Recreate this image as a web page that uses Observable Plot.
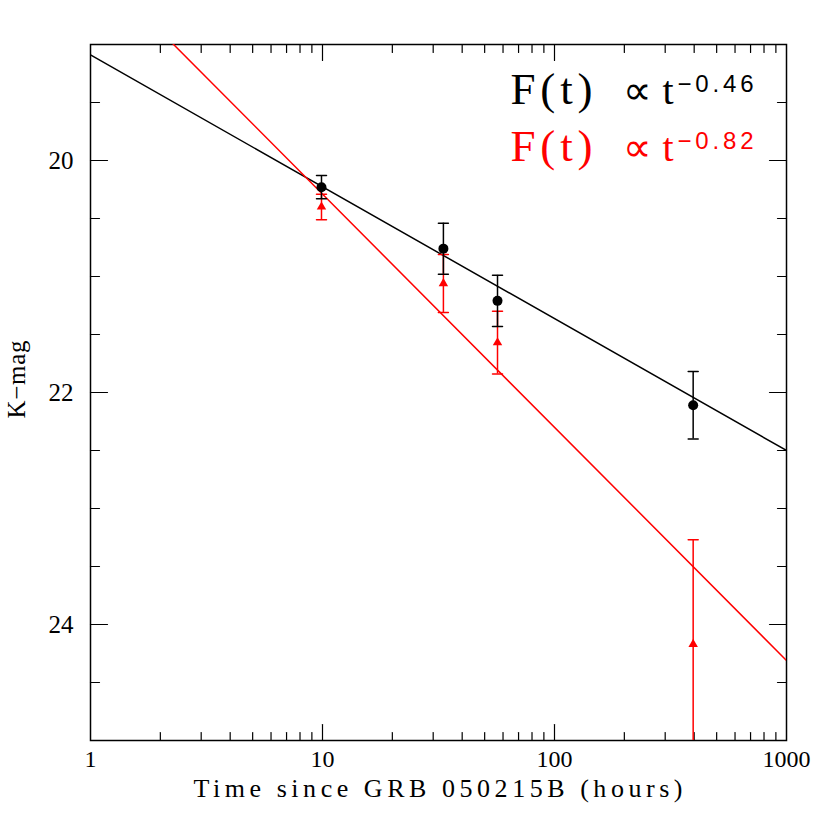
<!DOCTYPE html>
<html><head><meta charset="utf-8">
<script src="https://cdn.jsdelivr.net/npm/d3@7"></script>
<script src="https://cdn.jsdelivr.net/npm/@observablehq/plot@0.6"></script>
<style>body{margin:0;background:#fff}</style>
</head><body><div id="chart"></div>
<script>
// Observations (hours since burst, K magnitude, 1-sigma error)
const times = [9.9, 33.2, 56.8, 396];
const kmagBlack = [20.23, 20.76, 21.21, 22.11];
const errBlack = [0.10, 0.22, 0.22, 0.29];
const kmagRed = [20.40, 21.06, 21.57, 24.17];
const errRed = [0.11, 0.25, 0.27, 0.90];
// Power-law fits (endpoints)
const fitT = [1, 1000];
const fitBlackMag = [19.09, 22.50];
const fitRedMag = [18.28, 24.31];
// Ticks
const xMajor = [1, 10, 100, 1000];
const xMinor = [2,3,4,5,6,7,8,9,20,30,40,50,60,70,80,90,200,300,400,500,600,700,800,900];
const yMajor = [20, 22, 24];
const yMinor = [19.5, 20.5, 21, 21.5, 22.5, 23, 23.5, 24.5];
// Legend
const legendMain = ["F(t)", "F(t)"];
const legendProp = ["\u221Dt", "\u221Dt"];
const legendExp = ["\u22120.46", "\u22120.82"];
const legendColor = ["black", "red"];
const xTitle = "Time since GRB 050215B (hours)";
const yTitle = "K\u2212mag";

const obsBlack = times.map((t,i)=>({t, m:kmagBlack[i], lo:kmagBlack[i]-errBlack[i], hi:kmagBlack[i]+errBlack[i]}));
const obsRed = times.map((t,i)=>({t, m:kmagRed[i], lo:kmagRed[i]-errRed[i], hi:kmagRed[i]+errRed[i]}));
const lineBlack = fitT.map((t,i)=>({t, m:fitBlackMag[i]}));
const lineRed = fitT.map((t,i)=>({t, m:fitRedMag[i]}));
const legend = legendMain.map((s,i)=>({i, main:s, prop:legendProp[i], exp:legendExp[i], color:legendColor[i]}));

const tickShape = {draw(ctx, l){ ctx.moveTo(0,0); ctx.lineTo(0,-l); }};
const serif = "Liberation Serif";
const tickMarks = (vals, len) => [
  Plot.vector(vals, {x:d=>d, frameAnchor:"bottom", rotate:0, length:len, anchor:"start", shape:tickShape, stroke:"black", strokeWidth:1.2}),
  Plot.vector(vals, {x:d=>d, frameAnchor:"top", rotate:180, length:len, anchor:"start", shape:tickShape, stroke:"black", strokeWidth:1.2})
];
const yTickMarks = (vals, len) => [
  Plot.vector(vals, {y:d=>d, frameAnchor:"left", rotate:90, length:len, anchor:"start", shape:tickShape, stroke:"black", strokeWidth:1.2}),
  Plot.vector(vals, {y:d=>d, frameAnchor:"right", rotate:-90, length:len, anchor:"start", shape:tickShape, stroke:"black", strokeWidth:1.2})
];
const errMarks = (data, color, capLen) => [
  Plot.ruleX(data, {x:"t", y1:"lo", y2:"hi", stroke:color, strokeWidth:1.5, clip:true}),
  Plot.vector(data.filter(d=>d.lo>=19), {x:"t", y:"lo", rotate:90, anchor:"middle", length:capLen, shape:tickShape, stroke:color, strokeWidth:1.5}),
  Plot.vector(data.filter(d=>d.hi<=25), {x:"t", y:"hi", rotate:90, anchor:"middle", length:capLen, shape:tickShape, stroke:color, strokeWidth:1.5})
];
const legendRow = (i, baseDy) => [
  Plot.text(legend.filter(d=>d.i===i), {frameAnchor:"top-left", dx:420, dy:baseDy, text:"main", fill:"color", fontSize:45, fontFamily:serif, textAnchor:"start", lineAnchor:"bottom"}),
  Plot.text(legend.filter(d=>d.i===i), {frameAnchor:"top-left", dx:532, dy:baseDy, text:"prop", fill:"color", fontSize:40, fontFamily:serif, textAnchor:"start", lineAnchor:"bottom"}),
  Plot.text(legend.filter(d=>d.i===i), {frameAnchor:"top-left", dx:587, dy:baseDy-12, text:"exp", fill:"color", fontSize:24, fontFamily:"Liberation Sans", textAnchor:"start", lineAnchor:"bottom"})
];

const chart = Plot.plot({
  width: 830, height: 830,
  marginLeft: 90, marginRight: 44, marginTop: 44, marginBottom: 90,
  x: {type:"log", domain:[1,1000], axis:null},
  y: {domain:[19,25], reverse:true, axis:null},
  marks: [
    Plot.frame({stroke:"black", strokeWidth:1.5}),
    ...tickMarks(xMajor.slice(1,-1), 16), ...tickMarks(xMinor, 8),
    ...yTickMarks(yMajor, 17), ...yTickMarks(yMinor, 9),
    Plot.line(lineBlack, {x:"t", y:"m", stroke:"black", strokeWidth:1.5, clip:true}),
    Plot.line(lineRed, {x:"t", y:"m", stroke:"red", strokeWidth:1.5, clip:true}),
    ...errMarks(obsRed, "red", 10),
    ...errMarks(obsBlack, "black", 10),
    Plot.dot(obsRed, {x:"t", y:"m", symbol:"triangle", r:3.5, fill:"red", stroke:"none"}),
    Plot.dot(obsBlack, {x:"t", y:"m", r:5, fill:"black", stroke:"none"}),
    // tick labels
    Plot.text(xMajor, {x:d=>d, frameAnchor:"bottom", dy:26, text:d=>String(d), fontSize:24, fontFamily:serif, fill:"black"}),
    Plot.text(yMajor, {y:d=>d, frameAnchor:"left", dx:-17, textAnchor:"end", text:d=>String(d), fontSize:25, fontFamily:serif, fill:"black"}),
    // axis titles
    Plot.text([xTitle], {frameAnchor:"bottom", dx:-245, dy:56, textAnchor:"start", text:d=>d, fontSize:26, fontFamily:serif, fill:"black"}),
    Plot.text([yTitle], {frameAnchor:"left", dx:-74, dy:26, rotate:-90, textAnchor:"start", text:d=>d, fontSize:25, fontFamily:serif, fill:"black"}),
    // legend
    ...legendRow(0, 59),
    ...legendRow(1, 116)
  ]
});
// widen lettering (letter spacing) to match the reference typeface
const lengths = new Map([["F(t)", 82], ["\u221Dt", 51], ["\u22120.46", 76], ["\u22120.82", 76], [xTitle, 489], [yTitle, 78]]);
d3.select(chart).selectAll("text").each(function(){
  const L = lengths.get(this.textContent);
  if (L) { this.setAttribute("textLength", L); this.setAttribute("lengthAdjust", "spacing"); }
});
document.getElementById("chart").appendChild(chart);
</script>
</body></html>
